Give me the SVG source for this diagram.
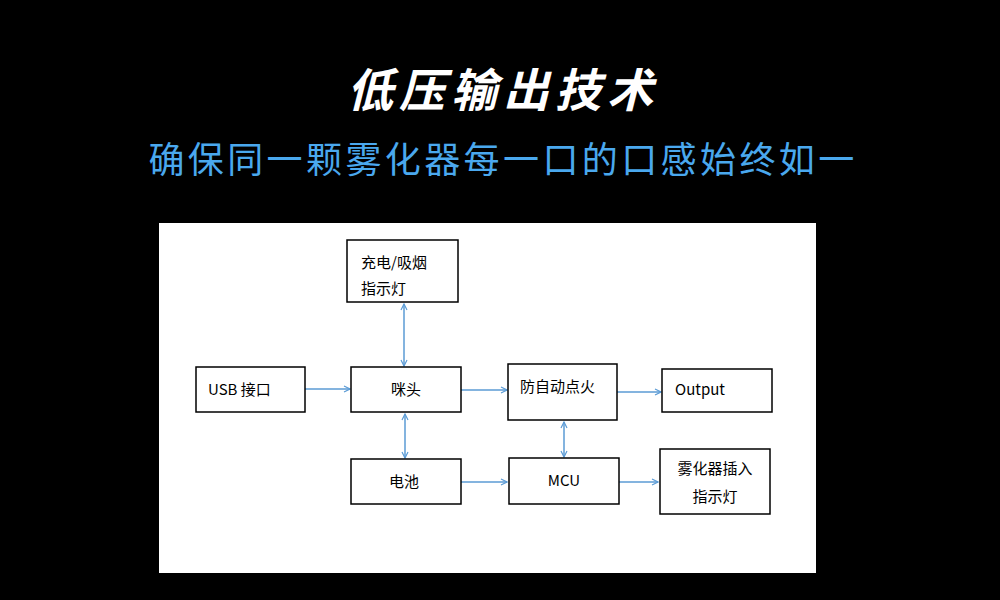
<svg xmlns="http://www.w3.org/2000/svg" width="1000" height="600" viewBox="0 0 1000 600">
<style>
.b{fill:#fff;stroke:#000;stroke-width:1.5}
.t{font-family:"Noto Sans CJK SC","Liberation Sans",sans-serif;font-size:15px;fill:#000}
.c{stroke:#5b9bd5;stroke-width:1.5;fill:none;marker-end:url(#a)}
.d{marker-start:url(#s)}
</style>
<defs>
<marker id="a" markerWidth="8" markerHeight="8" refX="7" refY="4" orient="auto" markerUnits="userSpaceOnUse"><path d="M1,1 L7,4 L1,7" fill="none" stroke="#5b9bd5" stroke-width="1.2"/></marker>
<marker id="s" markerWidth="8" markerHeight="8" refX="1" refY="4" orient="auto" markerUnits="userSpaceOnUse"><path d="M7,1 L1,4 L7,7" fill="none" stroke="#5b9bd5" stroke-width="1.2"/></marker>
</defs>
<rect width="1000" height="600" fill="#000"/>
<text x="503" y="107" text-anchor="middle" font-family="Noto Sans CJK SC,sans-serif" font-size="46" font-weight="bold" font-style="italic" fill="#fff" letter-spacing="6">低压输出技术</text>
<text x="503" y="173" text-anchor="middle" font-family="Noto Sans CJK SC,sans-serif" font-size="36" fill="#4aa8ee" letter-spacing="3.4">确保同一颗雾化器每一口的口感始终如一</text>
<rect x="159" y="223" width="657" height="350" fill="#fff"/>
<g id="connectors">
<line class="c" x1="305" y1="389" x2="350" y2="389"/>
<line class="c d" x1="404" y1="304" x2="404" y2="366"/>
<line class="c" x1="461" y1="390" x2="507" y2="390"/>
<line class="c" x1="617" y1="392" x2="661" y2="392"/>
<line class="c d" x1="405" y1="414" x2="405" y2="458"/>
<line class="c d" x1="564" y1="422" x2="564" y2="457"/>
<line class="c" x1="461" y1="482" x2="507" y2="482"/>
<line class="c" x1="619" y1="482" x2="658" y2="482"/>
</g>
<g id="n1"><rect class="b" x="347" y="240" width="111" height="62"/><text class="t" x="361" y="268">充电/吸烟</text><text class="t" x="361" y="294">指示灯</text></g>
<g id="n2"><rect class="b" x="196" y="367" width="109" height="45"/><text class="t" x="208" y="395">USB 接口</text></g>
<g id="n3"><rect class="b" x="351" y="367" width="110" height="45"/><text class="t" x="406" y="395" text-anchor="middle">咪头</text></g>
<g id="n4"><rect class="b" x="508" y="364" width="109" height="56"/><text class="t" x="520" y="392">防自动点火</text></g>
<g id="n5"><rect class="b" x="662" y="369" width="110" height="43"/><text class="t" x="675" y="395" font-family="Liberation Sans,sans-serif" font-size="14">Output</text></g>
<g id="n6"><rect class="b" x="351" y="459" width="110" height="45"/><text class="t" x="404" y="487" text-anchor="middle">电池</text></g>
<g id="n7"><rect class="b" x="509" y="458" width="110" height="46"/><text class="t" x="564" y="486" text-anchor="middle" font-family="Liberation Sans,sans-serif" font-size="14">MCU</text></g>
<g id="n8"><rect class="b" x="660" y="449" width="110" height="65"/><text class="t" x="715" y="474" text-anchor="middle">雾化器插入</text><text class="t" x="715" y="502" text-anchor="middle">指示灯</text></g>
</svg>
